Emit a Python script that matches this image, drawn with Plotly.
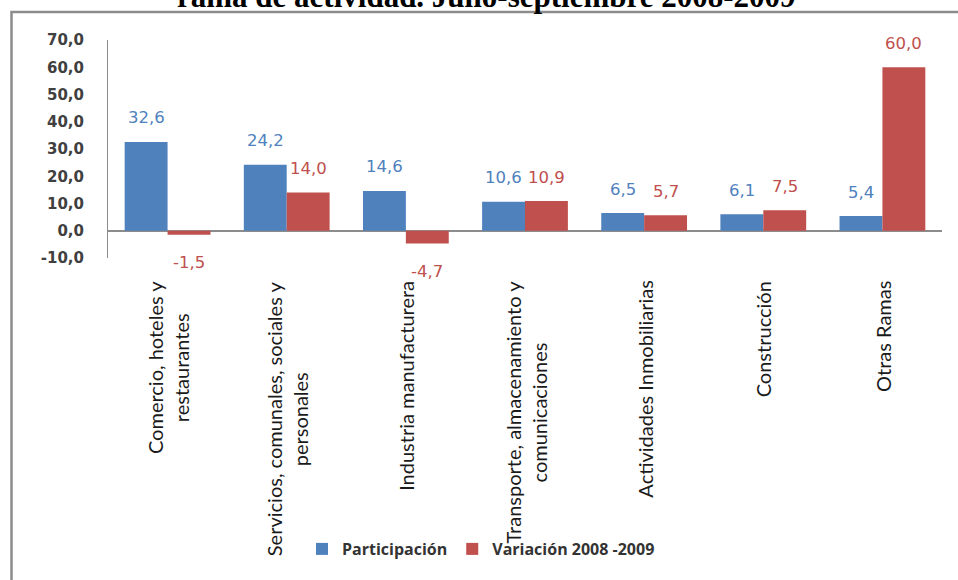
import plotly.graph_objects as go

categories = ["Comercio, hoteles y restaurantes",
              "Servicios, comunales, sociales y personales",
              "Industria manufacturera",
              "Transporte, almacenamiento y comunicaciones",
              "Actividades Inmobiliarias",
              "Construcción",
              "Otras Ramas"]
category_labels = ["Comercio, hoteles y<br>restaurantes",
                   "Servicios, comunales, sociales y<br>personales",
                   "Industria manufacturera",
                   "Transporte, almacenamiento y<br>comunicaciones",
                   "Actividades Inmobiliarias",
                   "Construcción",
                   "Otras Ramas"]
participacion = [32.6, 24.2, 14.6, 10.6, 6.5, 6.1, 5.4]
variacion = [-1.5, 14.0, -4.7, 10.9, 5.7, 7.5, 60.0]
series_names = ["Participación", "Variación 2008 -2009"]
title_text = "rama de actividad. Julio-septiembre 2008-2009"
y_ticks = [-10, 0, 10, 20, 30, 40, 50, 60, 70]

BLUE = "#4F81BD"
RED = "#C0504D"

# pixel geometry helpers (screen coords; body margin removed below)
W, H = 958, 580
L, R, T, B = 108, 16, 40, 322
PW, PH = W - L - R, H - T - B
def px_x(X):
    return (X - L) / PW
def px_y(Y):
    return (H - B - Y) / PH

fig = go.Figure()
fig.add_trace(go.Bar(x=categories, y=participacion, name=series_names[0],
                     marker=dict(color=BLUE, line=dict(width=0))))
fig.add_trace(go.Bar(x=categories, y=variacion, name=series_names[1],
                     marker=dict(color=RED, line=dict(width=0))))

def fmt(v):
    return f"{v:.1f}".replace(".", ",")

annotations = []
bar_half = PW / len(categories) * (1 - 0.28) / 4
for vals, color, sign in ((participacion, BLUE, -1), (variacion, RED, 1)):
    for c, v in zip(categories, vals):
        annotations.append(dict(
            x=c, y=v, xref="x", yref="y", text=fmt(v), showarrow=False,
            xshift=sign * bar_half, yshift=(24 if v >= 0 else -28),
            xanchor="center", yanchor="middle",
            font=dict(family="DejaVu Sans", size=16.5, color=color)))

for c, lab in zip(categories, category_labels):
    annotations.append(dict(
        x=c, y=px_y(279), xref="x", yref="paper", text=lab, showarrow=False,
        textangle=-90, xanchor="center", yanchor="top", align="center",
        xshift=0,
        font=dict(family="Lato", size=20, color="#1a1a1a")))

annotations.append(dict(
    x=px_x(486), y=px_y(-3), xref="paper", yref="paper", text="<b>" + title_text + "</b>",
    showarrow=False, xanchor="center", yanchor="middle",
    font=dict(family="Liberation Serif", size=31, color="black")))

shapes = [
    dict(type="rect", xref="paper", yref="paper", layer="above",
         x0=px_x(11.5), x1=px_x(1000), y0=px_y(12), y1=px_y(620),
         line=dict(color="#8c8c8c", width=2.5), fillcolor="rgba(0,0,0,0)"),
]

fig.update_layout(
    width=W, height=H,
    margin=dict(l=L, r=R, t=T, b=B, autoexpand=False),
    paper_bgcolor="white", plot_bgcolor="white",
    barmode="group", bargap=0.28, bargroupgap=0,
    showlegend=True,
    legend=dict(orientation="h", x=px_x(302), y=px_y(549), xanchor="left", yanchor="middle",
                font=dict(family="Open Sans", size=16, color="#333333", weight="bold"),
                bgcolor="rgba(0,0,0,0)"),
    annotations=annotations,
    shapes=shapes,
)
fig.update_xaxes(showticklabels=False, showline=False, ticks="", showgrid=False)
fig.update_yaxes(range=[-10, 70], tickvals=y_ticks, ticktext=[fmt(v) for v in y_ticks],
                 showgrid=False, showline=True, linecolor="#8c8c8c", linewidth=1,
                 zeroline=True, zerolinecolor="#8c8c8c", zerolinewidth=1.5,
                 ticks="", ticklabelstandoff=20,
                 tickfont=dict(family="DejaVu Sans", size=15, color="#404040", weight="bold"))

fig.write_html("out.html", config={"displayModeBar": False},
               post_script="document.body.style.margin='0';document.body.style.overflow='hidden';")
